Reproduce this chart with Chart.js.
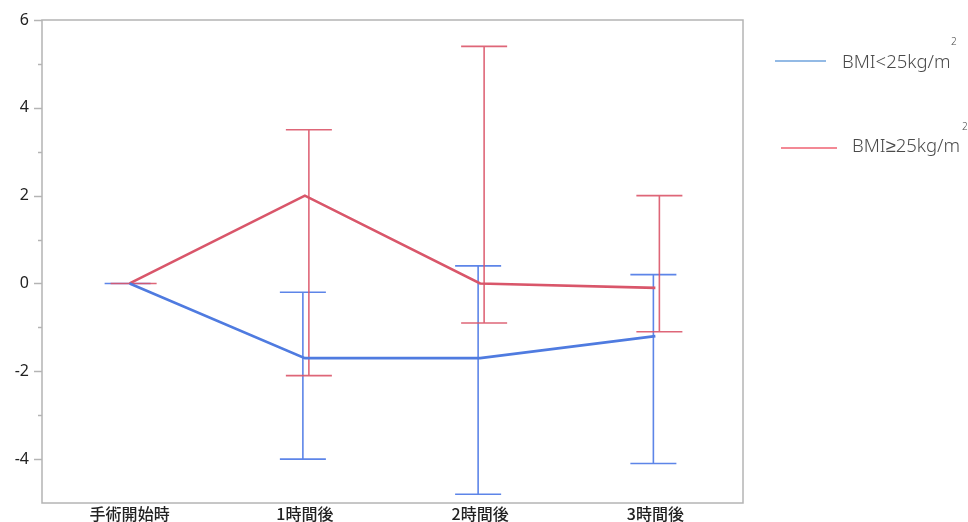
<!DOCTYPE html>
<html>
<head>
<meta charset="utf-8">
<script src="https://cdn.jsdelivr.net/npm/chart.js@4.4.1/dist/chart.umd.min.js"></script>
<style>
  html, body { margin: 0; padding: 0; background: #fff; }
  #wrap { position: relative; width: 968px; height: 522px; }
</style>
</head>
<body>
<div id="wrap"><canvas id="chart" width="968" height="522"></canvas></div>
<script>
// Categories and series
const categories = ['手術開始時', '1時間後', '2時間後', '3時間後'];
const seriesNames = ['BMI<25kg/m', 'BMI≥25kg/m'];

const lowBmiMean = [0, -1.7, -1.7, -1.2];
const lowBmiUpper = [0, -0.2, 0.4, 0.2];
const lowBmiLower = [0, -4.0, -4.8, -4.1];

const highBmiMean = [0, 2.0, 0.0, -0.1];
const highBmiUpper = [0, 3.5, 5.4, 2.0];
const highBmiLower = [0, -2.1, -0.9, -1.1];

const yTicks = [-4, -2, 0, 2, 4, 6];

// Styles
const blueLine = '#4f7be0';
const redLine = '#d9566a';
const blueBar = 'rgba(75, 120, 230, 0.9)';
const redBar = 'rgba(218, 85, 105, 0.9)';
const axisGray = '#b4b4b4';

const ctx = document.getElementById('chart').getContext('2d');

// Error bars drawn from the scales
const errorBarPlugin = {
    id: 'errorBars',
    beforeDatasetsDraw(chart) {
        const { ctx, scales: { x, y } } = chart;
        const groups = [
            { upper: lowBmiUpper, lower: lowBmiLower, color: blueBar, shift: -2 },
            { upper: highBmiUpper, lower: highBmiLower, color: redBar, shift: 4 }
        ];
        ctx.save();
        ctx.lineWidth = 1.6;
        groups.forEach(g => {
            ctx.strokeStyle = g.color;
            g.upper.forEach((up, i) => {
                const cx = x.getPixelForValue(i) + g.shift;
                const yTop = y.getPixelForValue(up);
                const yBot = y.getPixelForValue(g.lower[i]);
                const half = 23;
                ctx.beginPath();
                ctx.moveTo(cx, yTop);
                ctx.lineTo(cx, yBot);
                ctx.moveTo(cx - half, yTop);
                ctx.lineTo(cx + half, yTop);
                ctx.moveTo(cx - half, yBot);
                ctx.lineTo(cx + half, yBot);
                ctx.stroke();
            });
        });
        ctx.restore();
    }
};

// Plot frame, y ticks and legend
const framePlugin = {
    id: 'frame',
    beforeDraw(chart) {
        const { ctx, chartArea: a, scales: { y } } = chart;
        ctx.save();
        ctx.strokeStyle = axisGray;
        ctx.lineWidth = 1.5;
        ctx.strokeRect(a.left, a.top, a.right - a.left, a.bottom - a.top);
        for (let v = Math.ceil(y.min); v <= y.max; v++) {
            if (v === y.min) continue;
            const py = Math.round(y.getPixelForValue(v)) + 0.5;
            const len = v % 2 === 0 ? 8 : 4;
            ctx.beginPath();
            ctx.moveTo(a.left - len, py);
            ctx.lineTo(a.left, py);
            ctx.stroke();
        }
        ctx.restore();
    },
    afterDraw(chart) {
        const { ctx } = chart;
        const items = [
            { name: seriesNames[0], color: '#6fa3dc', x0: 775, x1: 826, y: 61, tx: 842, ty: 63, sx: 951, sy: 42 },
            { name: seriesNames[1], color: '#ef6272', x0: 781, x1: 837, y: 148, tx: 852, ty: 147, sx: 962, sy: 127 }
        ];
        ctx.save();
        items.forEach(it => {
            ctx.strokeStyle = it.color;
            ctx.lineWidth = 1.5;
            ctx.beginPath();
            ctx.moveTo(it.x0, it.y);
            ctx.lineTo(it.x1, it.y);
            ctx.stroke();
            ctx.fillStyle = '#4a4a4a';
            ctx.textBaseline = 'middle';
            ctx.textAlign = 'left';
            ctx.font = '300 18.5px "Noto Sans", "DejaVu Sans", sans-serif';
            ctx.fillText(it.name, it.tx, it.ty);
            ctx.font = '300 10px "Noto Sans", sans-serif';
            ctx.fillText('2', it.sx, it.sy);
        });
        ctx.restore();
    }
};

new Chart(ctx, {
    type: 'line',
    data: {
        labels: categories,
        datasets: [
            {
                label: seriesNames[0],
                data: lowBmiMean,
                borderColor: blueLine,
                borderWidth: 2.6,
                pointRadius: 0,
                tension: 0,
                fill: false
            },
            {
                label: seriesNames[1],
                data: highBmiMean,
                borderColor: redLine,
                borderWidth: 2.6,
                pointRadius: 0,
                tension: 0,
                fill: false
            }
        ]
    },
    options: {
        responsive: false,
        animation: false,
        layout: { padding: { top: 20, right: 225, left: 0, bottom: 0 } },
        plugins: {
            legend: { display: false },
            tooltip: { enabled: false }
        },
        scales: {
            x: {
                offset: true,
                grid: { display: false, drawTicks: false },
                border: { display: false },
                ticks: {
                    color: '#222',
                    padding: 3,
                    maxRotation: 0,
                    font: { family: '"Noto Sans CJK JP", sans-serif', size: 16, weight: '500', lineHeight: 1 }
                },
                afterFit: s => { s.height = 19; s.paddingLeft = 0; s.paddingRight = 0; }
            },
            y: {
                min: -5,
                max: 6,
                afterBuildTicks: s => { s.ticks = yTicks.map(v => ({ value: v })); },
                grid: { display: false, drawTicks: false },
                border: { display: false },
                ticks: {
                    color: '#222',
                    padding: 13,
                    font: { family: '"Noto Sans", "DejaVu Sans", sans-serif', size: 16 }
                },
                afterFit: s => { s.width = 42; s.paddingTop = 0; s.paddingBottom = 0; }
            }
        }
    },
    plugins: [framePlugin, errorBarPlugin]
});
</script>
</body>
</html>
